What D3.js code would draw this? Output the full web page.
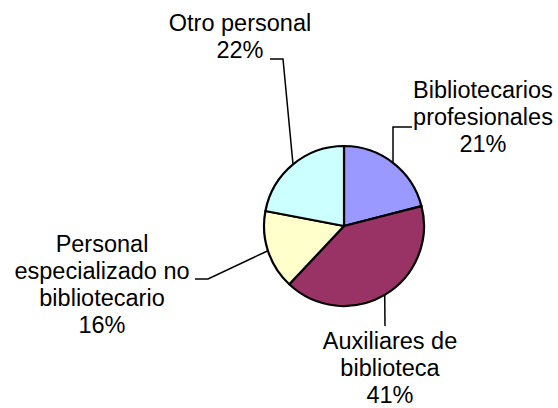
<!DOCTYPE html>
<html>
<head>
<meta charset="utf-8">
<script src="https://cdn.jsdelivr.net/npm/d3@7"></script>
<style>
  body { margin: 0; background: #fff; }
  text { font-family: "Liberation Sans", Arial, sans-serif; font-size: 23.5px; fill: #000; }
</style>
</head>
<body>
<svg id="chart"></svg>
<script>
// data
const categories = ["Bibliotecarios profesionales", "Auxiliares de biblioteca",
                    "Personal especializado no bibliotecario", "Otro personal"];
const values = [21, 41, 16, 22];
const labelLines = [
  ["Bibliotecarios", "profesionales"],
  ["Auxiliares de", "biblioteca"],
  ["Personal", "especializado no", "bibliotecario"],
  ["Otro personal"]
];
const colors = ["#9999FF", "#993366", "#FFFFCC", "#CCFFFF"];

// label placement (centre x, first baseline) and leader bends
const labelLayout = [
  {x: 483, y: 98,  bend: [[393, 127], [412, 127]]},
  {x: 390, y: 349, bend: [[385, 326]]},
  {x: 102, y: 252, bend: [[208, 279], [195, 279]]},
  {x: 240, y: 31,  bend: [[283, 59], [270, 59]]}
];

const width = 558, height = 408;
const cx = 344, cy = 226, radius = 80;
const lineH = 27;

const svg = d3.select("#chart").attr("width", width).attr("height", height);

const pie = d3.pie().sort(null).value(d => d);
const arcs = pie(values);
const arc = d3.arc().innerRadius(0).outerRadius(radius);

const g = svg.append("g").attr("transform", "translate(" + cx + "," + cy + ")");

g.selectAll("path")
  .data(arcs)
  .enter()
  .append("path")
  .attr("d", arc)
  .attr("fill", (d, i) => colors[i])
  .attr("stroke", "#000")
  .attr("stroke-width", 2.2)
  .attr("stroke-linejoin", "round");

// leader lines, starting at the middle of each slice's rim
arcs.forEach(function(a, i) {
  const mid = (a.startAngle + a.endAngle) / 2;
  const start = [cx + radius * Math.sin(mid), cy - radius * Math.cos(mid)];
  const pts = [start].concat(labelLayout[i].bend);
  svg.append("path")
    .attr("d", d3.line()(pts))
    .attr("fill", "none")
    .attr("stroke", "#000")
    .attr("stroke-width", 1.5);
});

// labels
labelLines.forEach(function(lines, i) {
  const L = labelLayout[i];
  const t = svg.append("text").attr("text-anchor", "middle");
  lines.concat([values[i] + "%"]).forEach(function(s, k) {
    t.append("tspan").attr("x", L.x).attr("y", L.y + k * lineH).text(s);
  });
});
</script>
</body>
</html>
